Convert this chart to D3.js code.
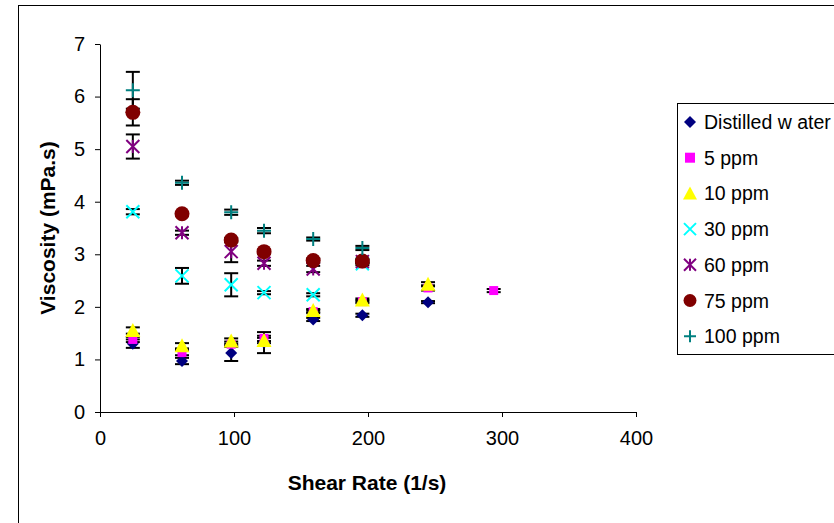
<!DOCTYPE html>
<html>
<head>
<meta charset="utf-8">
<script src="https://cdn.jsdelivr.net/npm/d3@7"></script>
<style>
  body { margin: 0; background: #fff; }
  svg text { font-family: "Liberation Sans", Arial, sans-serif; fill: #000; }
</style>
</head>
<body>
<div id="chart"></div>
<script>
"use strict"

// shear rates (1/s)
const rates = [24.5, 61.2, 97.9, 122.4, 159.1, 195.8, 244.8, 293.8];

// series names, colours and marker types
const seriesNames = ["Distilled w ater", "5 ppm", "10 ppm", "30 ppm", "60 ppm", "75 ppm", "100 ppm"];
const seriesColors = ["#000080", "#FF00FF", "#FFFF00", "#00FFFF", "#800080", "#800000", "#008080"];
const seriesMarkers = ["diamond", "square", "triangle", "x", "star", "circle", "plus"];

// viscosity (mPa.s) per series, null where not measured
const distilled = [1.30, 0.97, 1.12, 1.32, 1.76, 1.84, 2.09, null];
const ppm5      = [1.38, 1.13, 1.29, 1.40, 1.91, 2.10, 2.36, 2.31];
const ppm10     = [1.55, 1.26, 1.35, 1.36, 1.93, 2.13, 2.43, null];
const ppm30     = [3.81, 2.59, 2.42, 2.27, 2.23, 2.82, null, null];
const ppm60     = [5.05, 3.41, 3.05, 2.83, 2.72, 2.86, null, null];
const ppm75     = [5.70, 3.77, 3.27, 3.05, 2.88, 2.87, null, null];
const ppm100    = [6.12, 4.36, 3.80, 3.45, 3.29, 3.12, null, null];

// error bar half-widths
const errDistilled = [0.08, 0.06, 0.15, 0.20, 0.03, 0.03, 0.02, null];
const err5         = [0.05, 0.05, 0.05, 0.05, 0.03, 0.03, 0.05, 0.03];
const err10        = [0.06, 0.05, 0.05, 0.05, 0.03, 0.03, 0.04, null];
const err30        = [0.05, 0.15, 0.22, 0.03, 0.03, 0.03, null, null];
const err60        = [0.23, 0.04, 0.20, 0.05, 0.06, 0.03, null, null];
const err75        = [0.25, 0.03, 0.04, 0.04, 0.04, 0.04, null, null];
const err100       = [0.35, 0.04, 0.05, 0.05, 0.03, 0.04, null, null];

const values = [distilled, ppm5, ppm10, ppm30, ppm60, ppm75, ppm100];
const errors = [errDistilled, err5, err10, err30, err60, err75, err100];

const xTicks = [0, 100, 200, 300, 400];
const yTicks = [0, 1, 2, 3, 4, 5, 6, 7];

const width = 834, height = 523;
const plot = {left: 100, right: 636, top: 44, bottom: 412};

const svg = d3.select("#chart").append("svg")
  .attr("width", width)
  .attr("height", height);

// chart frame
svg.append("rect")
  .attr("x", 18.5).attr("y", 5.5)
  .attr("width", 840).attr("height", 540)
  .attr("fill", "none").attr("stroke", "#000").attr("stroke-width", 1);

const x = d3.scaleLinear().domain([0, 400]).range([plot.left, plot.right]);
const y = d3.scaleLinear().domain([0, 7]).range([plot.bottom, plot.top]);

// axes
const xAxis = svg.append("g")
  .attr("transform", "translate(0," + plot.bottom + ")")
  .call(d3.axisBottom(x).tickValues(xTicks).tickFormat(d3.format("d"))
    .tickSizeInner(5).tickSizeOuter(0).tickPadding(14));
const yAxis = svg.append("g")
  .attr("transform", "translate(" + plot.left + ",0)")
  .call(d3.axisLeft(y).tickValues(yTicks).tickFormat(d3.format("d"))
    .tickSizeInner(5).tickSizeOuter(0).tickPadding(10));

[xAxis, yAxis].forEach(function(a) {
  a.select(".domain").attr("stroke", "#000");
  a.selectAll(".tick line").attr("stroke", "#000");
  a.selectAll(".tick text")
    .style("font-family", "'Liberation Sans', Arial, sans-serif")
    .style("font-size", "20px")
    .attr("fill", "#000");
});

// axis titles
svg.append("text")
  .attr("x", 367).attr("y", 490)
  .attr("text-anchor", "middle")
  .style("font-size", "21px").style("font-weight", "bold")
  .text("Shear Rate (1/s)");
svg.append("text")
  .attr("transform", "translate(55,228) rotate(-90)")
  .attr("text-anchor", "middle")
  .style("font-size", "21px").style("font-weight", "bold")
  .text("Viscosity (mPa.s)");

// marker drawing
function drawMarker(g, type, color, s) {
  const h = s / 2;
  if (type === "diamond") {
    g.append("path").attr("d", "M0," + (-h) + "L" + h + ",0L0," + h + "L" + (-h) + ",0Z").attr("fill", color);
  } else if (type === "square") {
    g.append("rect").attr("x", -h + 1).attr("y", -h + 1).attr("width", s - 2).attr("height", s - 2).attr("fill", color);
  } else if (type === "triangle") {
    g.append("path").attr("d", "M0," + (-h - 1) + "L" + (h + 1) + "," + (h) + "L" + (-h - 1) + "," + (h) + "Z").attr("fill", color);
  } else if (type === "x") {
    g.append("path").attr("d", "M" + (-h) + "," + (-h) + "L" + h + "," + h + "M" + (-h) + "," + h + "L" + h + "," + (-h))
      .attr("stroke", color).attr("stroke-width", 2).attr("fill", "none");
  } else if (type === "star") {
    g.append("path").attr("d", "M" + (-h) + "," + (-h) + "L" + h + "," + h + "M" + (-h) + "," + h + "L" + h + "," + (-h) + "M0," + (-h) + "L0," + h)
      .attr("stroke", color).attr("stroke-width", 2).attr("fill", "none");
  } else if (type === "circle") {
    g.append("circle").attr("r", h + 0.5).attr("fill", color);
  } else if (type === "plus") {
    g.append("path").attr("d", "M" + (-h) + ",0L" + h + ",0M0," + (-h) + "L0," + h)
      .attr("stroke", color).attr("stroke-width", 2).attr("fill", "none");
  }
}

const markerSize = [12, 11, 13, 13, 13, 14, 14];

// build point table
const points = [];
values.forEach(function(vals, si) {
  vals.forEach(function(v, i) {
    if (v !== null) points.push({s: si, rate: rates[i], v: v, e: errors[si][i]});
  });
});

// error bars first
const eb = svg.append("g").attr("stroke", "#000").attr("stroke-width", 2);
points.forEach(function(p) {
  const cx = x(p.rate);
  const y1 = y(p.v + p.e), y2 = y(p.v - p.e);
  eb.append("line").attr("x1", cx).attr("x2", cx).attr("y1", y1).attr("y2", y2);
  eb.append("line").attr("x1", cx - 7).attr("x2", cx + 7).attr("y1", y1).attr("y2", y1);
  eb.append("line").attr("x1", cx - 7).attr("x2", cx + 7).attr("y1", y2).attr("y2", y2);
});

// markers
points.forEach(function(p) {
  const g = svg.append("g").attr("transform", "translate(" + x(p.rate) + "," + y(p.v) + ")");
  drawMarker(g, seriesMarkers[p.s], seriesColors[p.s], markerSize[p.s]);
});

// legend
const legend = svg.append("g");
legend.append("rect")
  .attr("x", 677.5).attr("y", 103.5)
  .attr("width", 200).attr("height", 251)
  .attr("fill", "#fff").attr("stroke", "#000");
seriesNames.forEach(function(name, i) {
  const ly = 122 + i * 35.7;
  const g = legend.append("g").attr("transform", "translate(690," + ly + ")");
  drawMarker(g, seriesMarkers[i], seriesColors[i], 12);
  legend.append("text")
    .attr("x", 704).attr("y", ly + 7)
    .style("font-size", "19.5px")
    .text(name);
});
</script>
</body>
</html>
